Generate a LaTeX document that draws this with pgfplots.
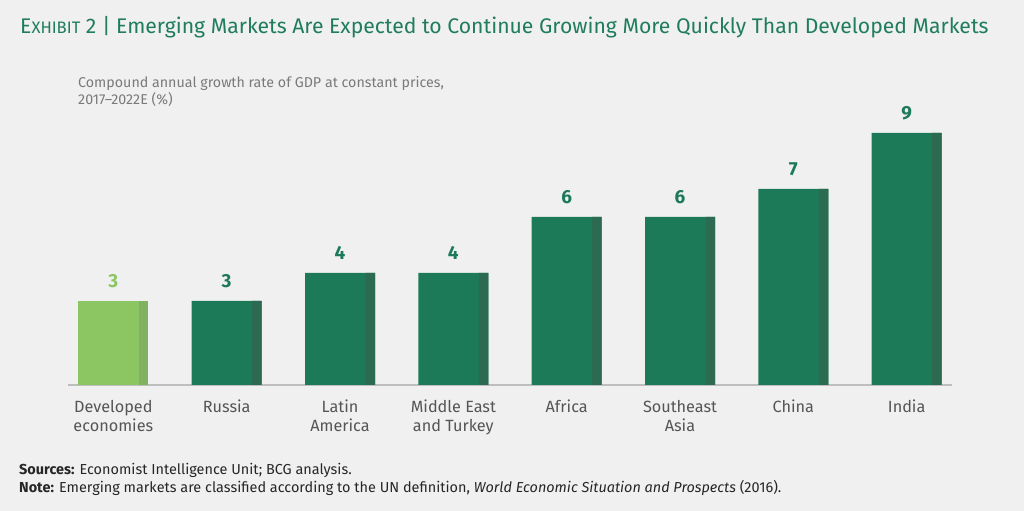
\documentclass[border=0pt]{standalone}
\usepackage{pgfplots}
\pgfplotsset{compat=1.18}
\usepackage{fontspec}
\setmainfont{Fira Sans}
\definecolor{bg}{HTML}{F0F0F0}
\definecolor{dkg}{HTML}{1D7A58}
\definecolor{dkgs}{HTML}{2D6A52}
\definecolor{ltg}{HTML}{8BC663}
\definecolor{ltgs}{HTML}{80B260}
\definecolor{ttl}{HTML}{1F7D5C}
\definecolor{lbl}{HTML}{555555}
\definecolor{subc}{HTML}{7A7A7A}
\definecolor{axl}{HTML}{BEBEBE}
\begin{document}
\begin{tikzpicture}[x=1bp,y=1bp]
\fill[bg] (0,0) rectangle (1024,511);
\node[anchor=base west, inner sep=0, text=ttl] at (20,477) {\fontsize{21.25}{21}\selectfont E{\fontsize{16.7}{16.7}\selectfont XHIBIT} 2 | Emerging Markets Are Expected to Continue Growing More Quickly Than Developed Markets};
\node[anchor=base west, inner sep=0, text=subc, align=left, font=\fontsize{14.3}{17.5}\selectfont] at (78,406) {Compound annual growth rate of GDP at constant prices,\\2017–2022E (\%)};
\node[anchor=base west, inner sep=0, text=black!85, font=\fontsize{14.5}{14.5}\selectfont] at (19,36) {\textbf{Sources:} Economist Intelligence Unit; BCG analysis.};
\node[anchor=base west, inner sep=0, text=black!85, font=\fontsize{14.5}{14.5}\selectfont] at (19,18) {\textbf{Note:} Emerging markets are classified according to the UN definition, \textit{World Economic Situation and Prospects} (2016).};
\begin{axis}[
  at={(68bp,126bp)}, anchor=south west,
  scale only axis, width=884bp, height=280bp,
  xmin=-0.4, xmax=7.4, ymin=0, ymax=10,
  axis x line*=bottom, axis y line=none,
  x axis line style={axl, line width=1.2bp, -},
  xtick={0,...,7},
  xticklabels={{Developed\\economies},Russia,{Latin\\America},{Middle East\\and Turkey},Africa,{Southeast\\Asia},China,India},
  major tick length=0, ytick=\empty,
  xticklabel style={text=lbl, align=center, anchor=north, inner sep=0pt, yshift=-15bp, font=\fontsize{16.3}{19}\selectfont},
  clip=false,
  nodes near coords style={font=\bfseries\fontsize{19}{19}\selectfont, anchor=south, inner sep=0pt, yshift=13bp},
]
\addplot[ybar, bar width=70bp, bar shift=0bp, fill=ltg, draw=none, nodes near coords={\color{ltg}\pgfmathprintnumber[assume math mode=true]{\pgfplotspointmeta}}] coordinates {(0,3)};
\addplot[ybar, bar width=70bp, bar shift=0bp, fill=dkg, draw=none, nodes near coords={\color{dkg}\pgfmathprintnumber[assume math mode=true]{\pgfplotspointmeta}}] coordinates {(1,3)(2,4)(3,4)(4,6)(5,6)(6,7)(7,9)};
\addplot[ybar, bar width=9.5bp, bar shift=30.25bp, fill=ltgs, draw=none] coordinates {(0,3)};
\addplot[ybar, bar width=9.5bp, bar shift=30.25bp, fill=dkgs, draw=none] coordinates {(1,3)(2,4)(3,4)(4,6)(5,6)(6,7)(7,9)};
\end{axis}
\end{tikzpicture}
\end{document}
